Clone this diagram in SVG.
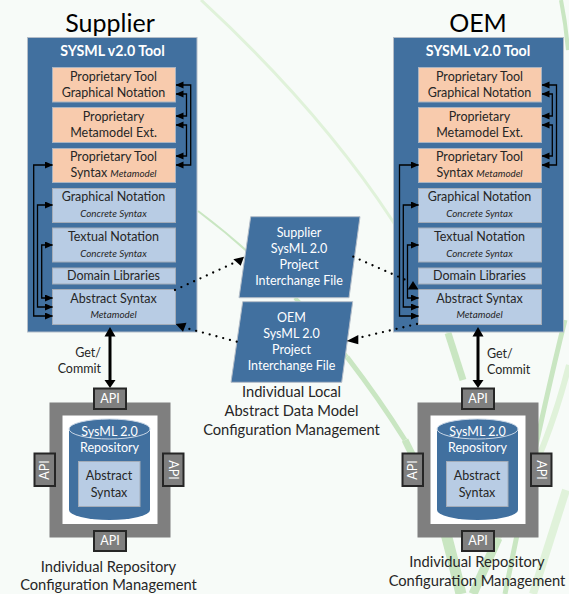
<svg xmlns="http://www.w3.org/2000/svg" width="569" height="594" viewBox="0 0 569 594">
<style>
text{font-family:"Lato","Open Sans","Liberation Sans",sans-serif;text-anchor:middle;fill:#262626}
.w{fill:#fff}.t{font-size:12.500px}.i{font-size:9.800px;font-style:italic}.c{font-size:14.700px}
.o{fill:#f8cbad;stroke:#a9b4c2;stroke-width:1}.b{fill:#b8cce4;stroke:#a3acb8;stroke-width:1}
.p{fill:#41709f;stroke:#b4bdc8;stroke-width:1}
.l{fill:none;stroke:#000;stroke-width:1.300}.d{fill:none;stroke:#000;stroke-width:2.300;stroke-linecap:round;stroke-dasharray:0 7}
.g{fill:none;stroke:#c9e6c2}.h{fill:none;stroke:#e0f2da}
.api{fill:#7f7f7f;stroke:#262626;stroke-width:2}
</style>
<defs>
<marker id="a" markerWidth="8" markerHeight="8" refX="7.500" refY="3.500" orient="auto-start-reverse" markerUnits="userSpaceOnUse"><path d="M0 0L8 3.500L0 7z"/></marker>
</defs>
<rect width="569" height="594" fill="#f7fbf8"/>
<g id="background">
<path class="h" stroke-width="3" d="M201 0Q320 110 392 220Q430 280 448 333"/>
<path class="g" stroke-width="7" d="M448 333L463 380"/>
<path class="g" stroke-width="2" d="M198 211Q250 250 295 298"/>
<path class="g" stroke-width="4" d="M295 298Q325 328 347 357"/>
<path class="g" stroke-width="5" d="M347 357Q380 400 405 440"/>
<path class="g" stroke-width="7" d="M405 440Q428 485 445 530"/>
<path class="g" stroke-width="11" d="M445 530Q453 560 461 594"/>
<path class="g" stroke-width="4" d="M561 0Q566 25 568 50"/>
<path class="g" stroke-width="5" d="M565 320Q540 420 505 594"/>
<path class="h" stroke-width="6" d="M569 365Q545 460 498 538"/>
<path class="g" stroke-width="9" d="M498 538L473 594"/>
<path class="h" stroke-width="8" d="M566 490L533 594"/>
</g>
<g id="supplier">
<text x="110" y="32" font-size="25" style="fill:#000">Supplier</text>
<rect class="p" x="27.500" y="37.500" width="169.500" height="294.500"/>
<text class="w" x="112.500" y="56" font-size="14.200" font-weight="700">SYSML v2.0 Tool</text>
<g id="s-ptgn"><rect class="o" x="52.500" y="67.500" width="123" height="34.500"/><text class="t" x="113.500" y="81">Proprietary Tool</text><text class="t" x="113.500" y="97">Graphical Notation</text></g>
<g id="s-pme"><rect class="o" x="52.500" y="107.500" width="123" height="35"/><text class="t" x="113.500" y="121">Proprietary</text><text class="t" x="113.500" y="137">Metamodel Ext.</text></g>
<g id="s-pts"><rect class="o" x="52.500" y="148.500" width="123" height="34"/><text class="t" x="113.500" y="161">Proprietary Tool</text><text class="t" x="113.500" y="177">Syntax <tspan class="i">Metamodel</tspan></text></g>
<g id="s-gn"><rect class="b" x="52.500" y="188.500" width="123" height="34"/><text class="t" x="113.500" y="201">Graphical Notation</text><text class="i" x="113.500" y="217">Concrete Syntax</text></g>
<g id="s-tn"><rect class="b" x="52.500" y="228" width="123" height="34"/><text class="t" x="113.500" y="241">Textual Notation</text><text class="i" x="113.500" y="257">Concrete Syntax</text></g>
<g id="s-dl"><rect class="b" x="52.500" y="268" width="123" height="16"/><text class="t" x="113.500" y="280">Domain Libraries</text></g>
<g id="s-as"><rect class="b" x="52.500" y="289.500" width="123" height="35"/><text class="t" x="113.500" y="303">Abstract Syntax</text><text class="i" x="113.500" y="318">Metamodel</text></g>
<text class="t" x="101" y="357" style="text-anchor:end">Get/</text><text class="t" x="101" y="373" style="text-anchor:end">Commit</text>
</g>
<g id="supplier-repo">
<rect x="49.500" y="402.500" width="121" height="135" fill="#7f7f7f"/><rect x="62.500" y="415.500" width="95" height="108.500" fill="#fff"/>
<path d="M69 429V510A40.500 10 0 0 0 150 510V429z" fill="#41709f"/><ellipse cx="109.500" cy="429" rx="40.500" ry="10" fill="#41709f" stroke="#c8d6e6"/>
<text class="w t" x="109.500" y="436">SysML 2.0</text><text class="w t" x="109.500" y="452">Repository</text>
<rect class="b" x="78.500" y="461.500" width="61.500" height="45"/><text class="t" x="109" y="480">Abstract</text><text class="t" x="109" y="497">Syntax</text>
<g id="s-api-t"><rect class="api" x="94" y="388.500" width="32" height="20.500"/><text class="w t" x="110" y="403">API</text></g>
<g id="s-api-b"><rect class="api" x="94" y="531" width="32" height="20"/><text class="w t" x="110" y="545">API</text></g>
<g id="s-api-l"><rect class="api" x="34.500" y="453.500" width="20.500" height="32.500"/><text class="w t" transform="translate(49 470) rotate(-90)">API</text></g>
<g id="s-api-r"><rect class="api" x="163" y="453.500" width="20.500" height="32.500"/><text class="w t" transform="translate(168.500 470) rotate(90)">API</text></g>
<text class="c" x="108.500" y="572">Individual Repository</text><text class="c" x="108.500" y="590">Configuration Management</text>
</g>
<g id="oem">
<text x="478" y="32" font-size="25" style="fill:#000">OEM</text>
<rect class="p" x="393.500" y="37.500" width="170" height="294.500"/>
<text class="w" x="478" y="56" font-size="14.200" font-weight="700">SYSML v2.0 Tool</text>
<g id="o-ptgn"><rect class="o" x="418.500" y="67.500" width="123" height="34.500"/><text class="t" x="479.500" y="81">Proprietary Tool</text><text class="t" x="479.500" y="97">Graphical Notation</text></g>
<g id="o-pme"><rect class="o" x="418.500" y="107.500" width="123" height="35"/><text class="t" x="479.500" y="121">Proprietary</text><text class="t" x="479.500" y="137">Metamodel Ext.</text></g>
<g id="o-pts"><rect class="o" x="418.500" y="148.500" width="123" height="34"/><text class="t" x="479.500" y="161">Proprietary Tool</text><text class="t" x="479.500" y="177">Syntax <tspan class="i">Metamodel</tspan></text></g>
<g id="o-gn"><rect class="b" x="418.500" y="188.500" width="123" height="34"/><text class="t" x="479.500" y="201">Graphical Notation</text><text class="i" x="479.500" y="217">Concrete Syntax</text></g>
<g id="o-tn"><rect class="b" x="418.500" y="228" width="123" height="34"/><text class="t" x="479.500" y="241">Textual Notation</text><text class="i" x="479.500" y="257">Concrete Syntax</text></g>
<g id="o-dl"><rect class="b" x="418.500" y="268" width="123" height="16"/><text class="t" x="479.500" y="280">Domain Libraries</text></g>
<g id="o-as"><rect class="b" x="418.500" y="289.500" width="123" height="35"/><text class="t" x="479.500" y="303">Abstract Syntax</text><text class="i" x="479.500" y="318">Metamodel</text></g>
<text class="t" x="487" y="358" style="text-anchor:start">Get/</text><text class="t" x="487" y="374" style="text-anchor:start">Commit</text>
</g>
<g id="oem-repo">
<rect x="417.500" y="402.500" width="121" height="135" fill="#7f7f7f"/><rect x="430.500" y="415.500" width="95" height="108.500" fill="#fff"/>
<path d="M437 429V510A40.500 10 0 0 0 518 510V429z" fill="#41709f"/><ellipse cx="477.500" cy="429" rx="40.500" ry="10" fill="#41709f" stroke="#c8d6e6"/>
<text class="w t" x="477.500" y="436">SysML 2.0</text><text class="w t" x="477.500" y="452">Repository</text>
<rect class="b" x="446.500" y="461.500" width="61.500" height="45"/><text class="t" x="477" y="480">Abstract</text><text class="t" x="477" y="497">Syntax</text>
<g id="o-api-t"><rect class="api" x="462" y="388.500" width="32" height="20.500"/><text class="w t" x="478" y="403">API</text></g>
<g id="o-api-b"><rect class="api" x="462" y="531" width="32" height="20"/><text class="w t" x="478" y="545">API</text></g>
<g id="o-api-l"><rect class="api" x="402.500" y="453.500" width="20.500" height="32.500"/><text class="w t" transform="translate(417 470) rotate(-90)">API</text></g>
<g id="o-api-r"><rect class="api" x="531" y="453.500" width="20.500" height="32.500"/><text class="w t" transform="translate(536.500 470) rotate(90)">API</text></g>
<text class="c" x="477" y="567">Individual Repository</text><text class="c" x="477" y="586">Configuration Management</text>
</g>
<g id="files">
<g id="supplier-file"><path class="p" d="M250.700 216.700H360L349 297.700H239z"/><text class="w t" x="299" y="237">Supplier</text><text class="w t" x="299" y="253">SysML 2.0</text><text class="w t" x="299" y="269">Project</text><text class="w t" x="299" y="285">Interchange File</text></g>
<g id="oem-file"><path class="p" d="M242.700 301.700H352.700L341.700 382.300H231z"/><text class="w t" x="291.500" y="322">OEM</text><text class="w t" x="291.500" y="338">SysML 2.0</text><text class="w t" x="291.500" y="354">Project</text><text class="w t" x="291.500" y="370">Interchange File</text></g>
<text class="c" x="291.500" y="397">Individual Local</text><text class="c" x="291.500" y="416">Abstract Data Model</text><text class="c" x="291.500" y="434.500">Configuration Management</text>
</g>
<g id="connectors">
<g id="s-links">
<path class="l" marker-start="url(#a)" marker-end="url(#a)" d="M176 85H190.700V165H176"/>
<path class="l" marker-start="url(#a)" marker-end="url(#a)" d="M176 94H186.500V116H176"/>
<path class="l" marker-start="url(#a)" marker-end="url(#a)" d="M176 125H186.500V156H176"/>
<path class="l" marker-start="url(#a)" marker-end="url(#a)" d="M52.500 316H33.700V165H52.500"/>
<path class="l" marker-start="url(#a)" marker-end="url(#a)" d="M52.500 307H37.500V205H52.500"/>
<path class="l" marker-start="url(#a)" marker-end="url(#a)" d="M52.500 298H41.700V245H52.500"/>
</g>
<g id="o-links">
<path class="l" marker-start="url(#a)" marker-end="url(#a)" d="M542 85H556.500V165H542"/>
<path class="l" marker-start="url(#a)" marker-end="url(#a)" d="M542 94H552.300V116H542"/>
<path class="l" marker-start="url(#a)" marker-end="url(#a)" d="M542 125H552.300V156H542"/>
<path class="l" marker-start="url(#a)" marker-end="url(#a)" d="M418.500 316H399.500V165H418.500"/>
<path class="l" marker-start="url(#a)" marker-end="url(#a)" d="M418.500 307H403.300V205H418.500"/>
<path class="l" marker-start="url(#a)" marker-end="url(#a)" d="M418.500 298H407.500V245H418.500"/>
</g>
<path class="d" d="M175 290L236 262"/><path d="M233.300 259.300L244 256.700L240.700 265.700z"/>
<path class="d" d="M236.700 341.700L182 327"/><path d="M175.700 324L186.500 322.700L183 331.700z"/>
<path class="d" d="M353.300 256.700L408 281"/><path d="M413 281L407.700 289.500H418.500z"/>
<path class="d" d="M417 324L356 338.500"/><path d="M346.700 341L358.300 335V344.300z"/>
<g id="get-commit" stroke="#000" stroke-width="3"><path d="M110 335V381"/><path d="M478 335V381"/></g>
<path d="M110 327L104.500 336.500H115.500zM110 388L104.500 380H115.500zM478 327L472.500 336.500H483.500zM478 388L472.500 380H483.500z"/>
</g>
</svg>
